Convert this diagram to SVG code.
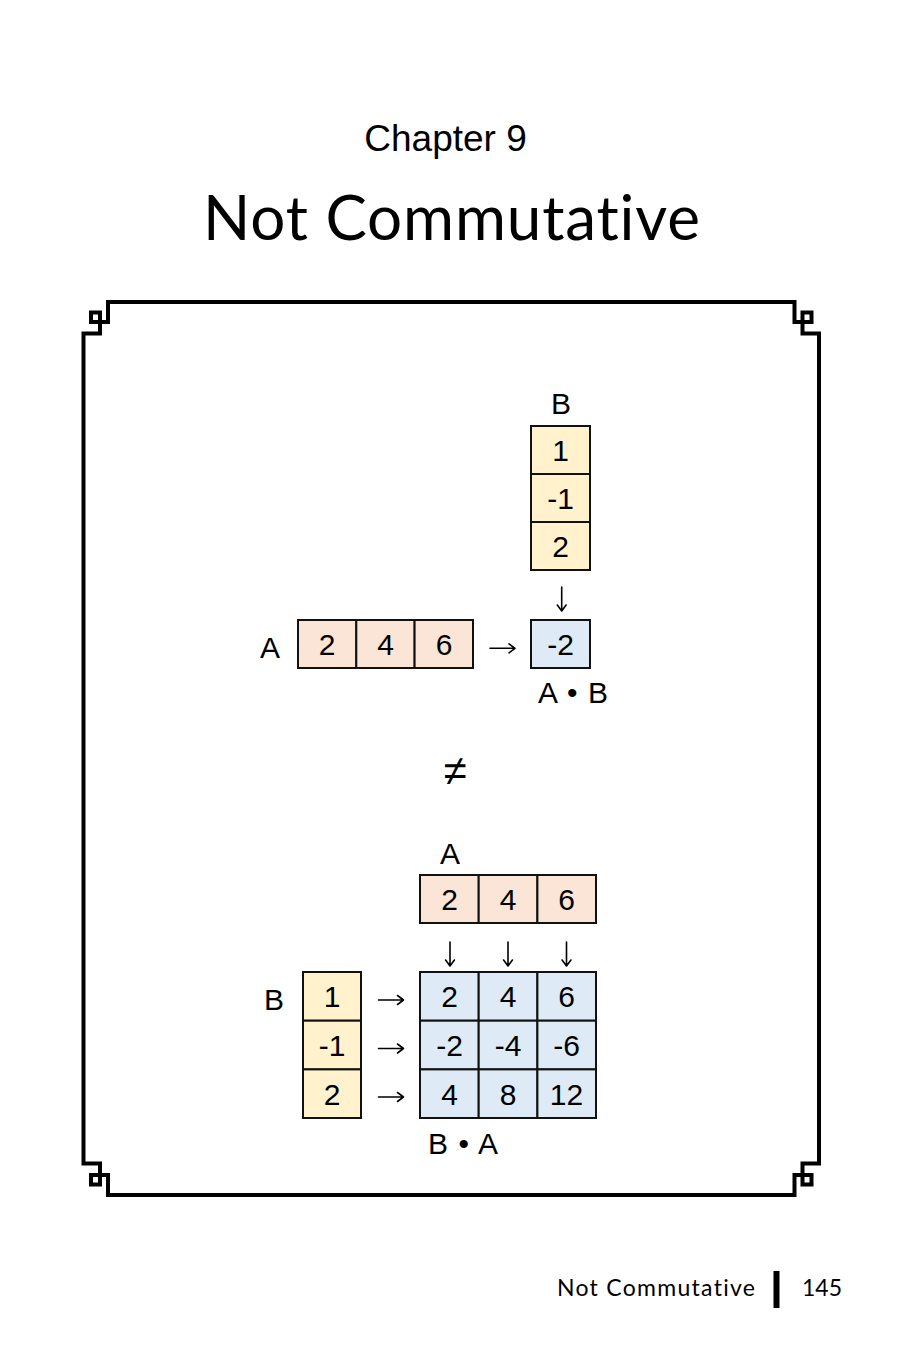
<svg xmlns="http://www.w3.org/2000/svg" width="900" height="1350" viewBox="0 0 900 1350">
<style>
.t{font-family:"Liberation Sans",Arial,sans-serif;fill:#000}
.lbl{font-size:30px;text-anchor:middle}
.num{font-size:30px;text-anchor:middle}
.geo{font-family:Lato,"Noto Sans",sans-serif;fill:#000;font-variant-ligatures:none}
.cell{stroke:#111;stroke-width:2}
.pe{fill:#FBE5D6}
.ye{fill:#FFF2CC}
.bl{fill:#DEEBF7}
.frame{fill:none;stroke:#000;stroke-width:4;stroke-linejoin:miter;stroke-linecap:square}
.arrow{fill:none;stroke:#000;stroke-width:1.6;stroke-linecap:round;stroke-linejoin:round}
</style>
<rect width="900" height="1350" fill="#fff"/>

<g id="header">
<text class="t" x="445.5" y="151" font-size="37" text-anchor="middle">Chapter 9</text>
<text class="geo" x="451.5" y="240" font-size="62" text-anchor="middle" textLength="497">Not Commutative</text>
</g>

<g id="frame">
<path class="frame" d="M83.5,1163.5 V333.5 H100 V312.5 H91 V322 H108 V302 H794.5 V322 H811.5 V312.5 H802.5 V333.5 H819 V1163.5 H802.5 V1184.5 H811.5 V1175 H794.5 V1195 H108 V1175 H91 V1184.5 H100 V1163.5 Z"/>
</g>

<g id="top-B">
<text class="t lbl" x="561" y="414">B</text>
<rect class="cell ye" x="531" y="426" width="59" height="48"/>
<rect class="cell ye" x="531" y="474" width="59" height="48"/>
<rect class="cell ye" x="531" y="522" width="59" height="48"/>
<text class="t num" x="560.5" y="461">1</text>
<text class="t num" x="560.5" y="509">-1</text>
<text class="t num" x="560.5" y="557">2</text>
</g>

<g id="top-A">
<text class="t lbl" x="270" y="658">A</text>
<rect class="cell pe" x="298" y="620" width="58.3" height="48"/>
<rect class="cell pe" x="356.3" y="620" width="58.3" height="48"/>
<rect class="cell pe" x="414.6" y="620" width="58.4" height="48"/>
<text class="t num" x="327" y="655">2</text>
<text class="t num" x="385.5" y="655">4</text>
<text class="t num" x="444" y="655">6</text>
</g>

<g id="top-AB">
<rect class="cell bl" x="531" y="620" width="59" height="48"/>
<text class="t num" x="560.5" y="655">-2</text>
<text class="t lbl" x="573" y="703" textLength="70">A • B</text>
</g>

<g id="neq">
<text class="t" x="455" y="785" font-size="42" text-anchor="middle">≠</text>
</g>

<g id="bottom-A">
<text class="t lbl" x="450" y="864">A</text>
<rect class="cell pe" x="420" y="875" width="58.7" height="48"/>
<rect class="cell pe" x="478.7" y="875" width="58.7" height="48"/>
<rect class="cell pe" x="537.4" y="875" width="58.6" height="48"/>
<text class="t num" x="449.5" y="910">2</text>
<text class="t num" x="508" y="910">4</text>
<text class="t num" x="566.5" y="910">6</text>
</g>

<g id="bottom-B">
<text class="t lbl" x="274" y="1010">B</text>
<rect class="cell ye" x="303" y="972" width="58" height="48.7"/>
<rect class="cell ye" x="303" y="1020.7" width="58" height="48.7"/>
<rect class="cell ye" x="303" y="1069.4" width="58" height="48.6"/>
<text class="t num" x="332" y="1007">1</text>
<text class="t num" x="332" y="1056">-1</text>
<text class="t num" x="332" y="1105">2</text>
</g>

<g id="bottom-BA">
<rect class="cell bl" x="420" y="972" width="58.7" height="48.7"/>
<rect class="cell bl" x="478.7" y="972" width="58.7" height="48.7"/>
<rect class="cell bl" x="537.4" y="972" width="58.6" height="48.7"/>
<rect class="cell bl" x="420" y="1020.7" width="58.7" height="48.7"/>
<rect class="cell bl" x="478.7" y="1020.7" width="58.7" height="48.7"/>
<rect class="cell bl" x="537.4" y="1020.7" width="58.6" height="48.7"/>
<rect class="cell bl" x="420" y="1069.4" width="58.7" height="48.6"/>
<rect class="cell bl" x="478.7" y="1069.4" width="58.7" height="48.6"/>
<rect class="cell bl" x="537.4" y="1069.4" width="58.6" height="48.6"/>
<text class="t num" x="449.5" y="1007">2</text>
<text class="t num" x="508" y="1007">4</text>
<text class="t num" x="566.5" y="1007">6</text>
<text class="t num" x="449.5" y="1056">-2</text>
<text class="t num" x="508" y="1056">-4</text>
<text class="t num" x="566.5" y="1056">-6</text>
<text class="t num" x="449.5" y="1105">4</text>
<text class="t num" x="508" y="1105">8</text>
<text class="t num" x="566.5" y="1105">12</text>
<text class="t lbl" x="463" y="1154" textLength="70">B • A</text>
</g>

<g id="connectors">
<path class="arrow" d="M561.7,587 V611 M557.3,605 L561.7,611 L566.1,605"/>
<path class="arrow" d="M490,648.3 H515 M509,643.8 L515,648.3 L509,652.8"/>
<path class="arrow" d="M450,942 V966 M445.6,960 L450,966 L454.4,960"/>
<path class="arrow" d="M508,942 V966 M503.6,960 L508,966 L512.4,960"/>
<path class="arrow" d="M566.5,942 V966 M562.1,960 L566.5,966 L570.9,960"/>
<path class="arrow" d="M378.5,1000 H403.5 M397.5,995.5 L403.5,1000 L397.5,1004.5"/>
<path class="arrow" d="M378.5,1048.5 H403.5 M397.5,1044 L403.5,1048.5 L397.5,1053"/>
<path class="arrow" d="M378.5,1097 H403.5 M397.5,1092.5 L403.5,1097 L397.5,1101.5"/>
</g>

<g id="footer">
<text class="geo" x="557" y="1296" font-size="23" textLength="198">Not Commutative</text>
<rect x="773.5" y="1271" width="6" height="37" fill="#000"/>
<text class="geo" x="802" y="1296" font-size="23" textLength="40">145</text>
</g>
</svg>
